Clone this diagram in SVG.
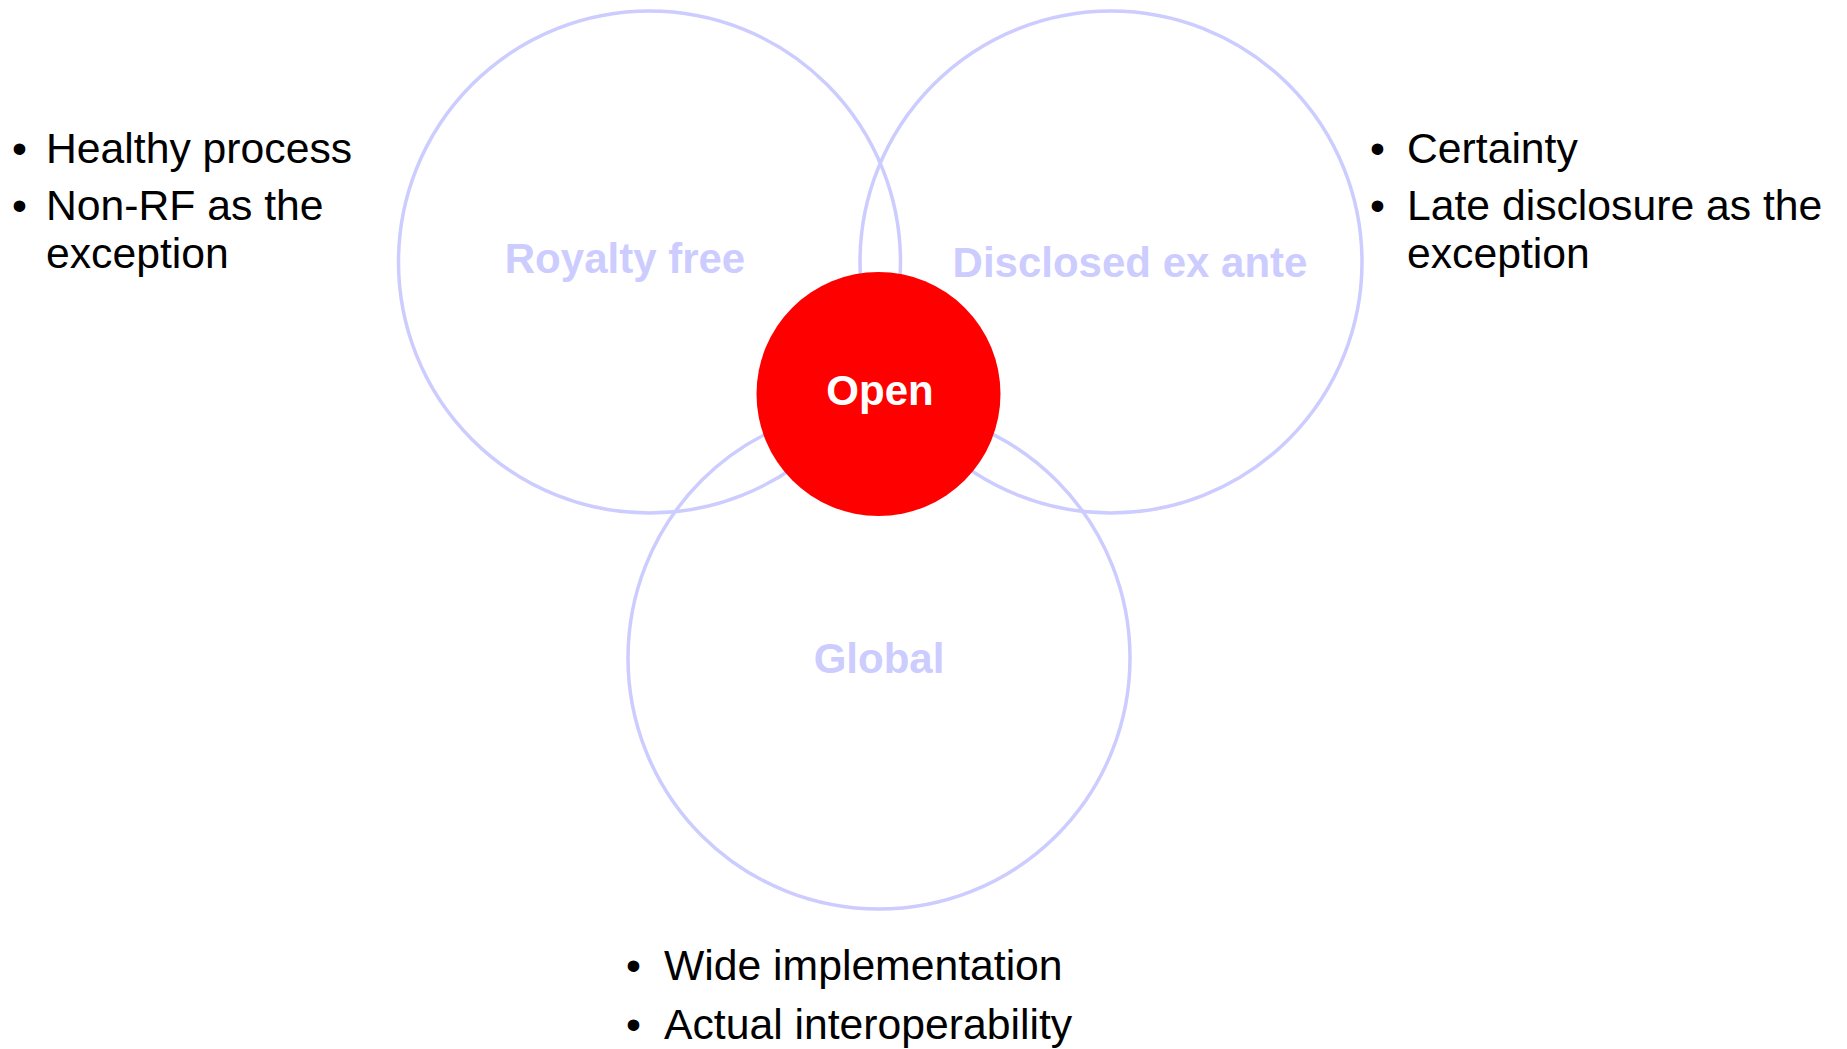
<svg xmlns="http://www.w3.org/2000/svg" width="1847" height="1049" viewBox="0 0 1847 1049">
<style>
.ring{fill:none;stroke:#CCCCFF;stroke-width:3.5}
.lbl{font-family:"Liberation Sans",Arial,sans-serif;font-weight:bold;font-size:42px;fill:#CCCCFF;text-anchor:middle}
.txt{font-family:"Liberation Sans",Arial,sans-serif;font-size:42.7px;fill:#000}
.open{font-family:"Liberation Sans",Arial,sans-serif;font-weight:bold;font-size:42px;fill:#FFFFFF;text-anchor:middle}
</style>
<rect width="1847" height="1049" fill="#FFFFFF"/>
<g id="royalty-free">
<circle class="ring" cx="649.5" cy="262" r="251"/>
<text class="lbl" x="625" y="273">Royalty free</text>
</g>
<g id="disclosed-ex-ante">
<circle class="ring" cx="1111" cy="262" r="251"/>
<text class="lbl" x="1130" y="277">Disclosed ex ante</text>
</g>
<g id="global">
<circle class="ring" cx="879" cy="658" r="251"/>
<text class="lbl" x="879" y="673">Global</text>
</g>
<g id="open">
<circle cx="878.5" cy="394" r="122" fill="#FF0000"/>
<text class="open" x="880" y="405">Open</text>
</g>
<g id="notes-left">
<text class="txt" x="12" y="162.5">•</text>
<text class="txt" x="46" y="162.5">Healthy process</text>
<text class="txt" x="12" y="220">•</text>
<text class="txt" x="46" y="220">Non-RF as the</text>
<text class="txt" x="46" y="268">exception</text>
</g>
<g id="notes-right">
<text class="txt" x="1370" y="162.5">•</text>
<text class="txt" x="1407" y="162.5">Certainty</text>
<text class="txt" x="1370" y="220">•</text>
<text class="txt" x="1407" y="220">Late disclosure as the</text>
<text class="txt" x="1407" y="268">exception</text>
</g>
<g id="notes-bottom">
<text class="txt" x="626" y="980">•</text>
<text class="txt" x="664" y="980">Wide implementation</text>
<text class="txt" x="626" y="1039">•</text>
<text class="txt" x="664" y="1039">Actual interoperability</text>
</g>
<g id="connectors"></g>
</svg>
